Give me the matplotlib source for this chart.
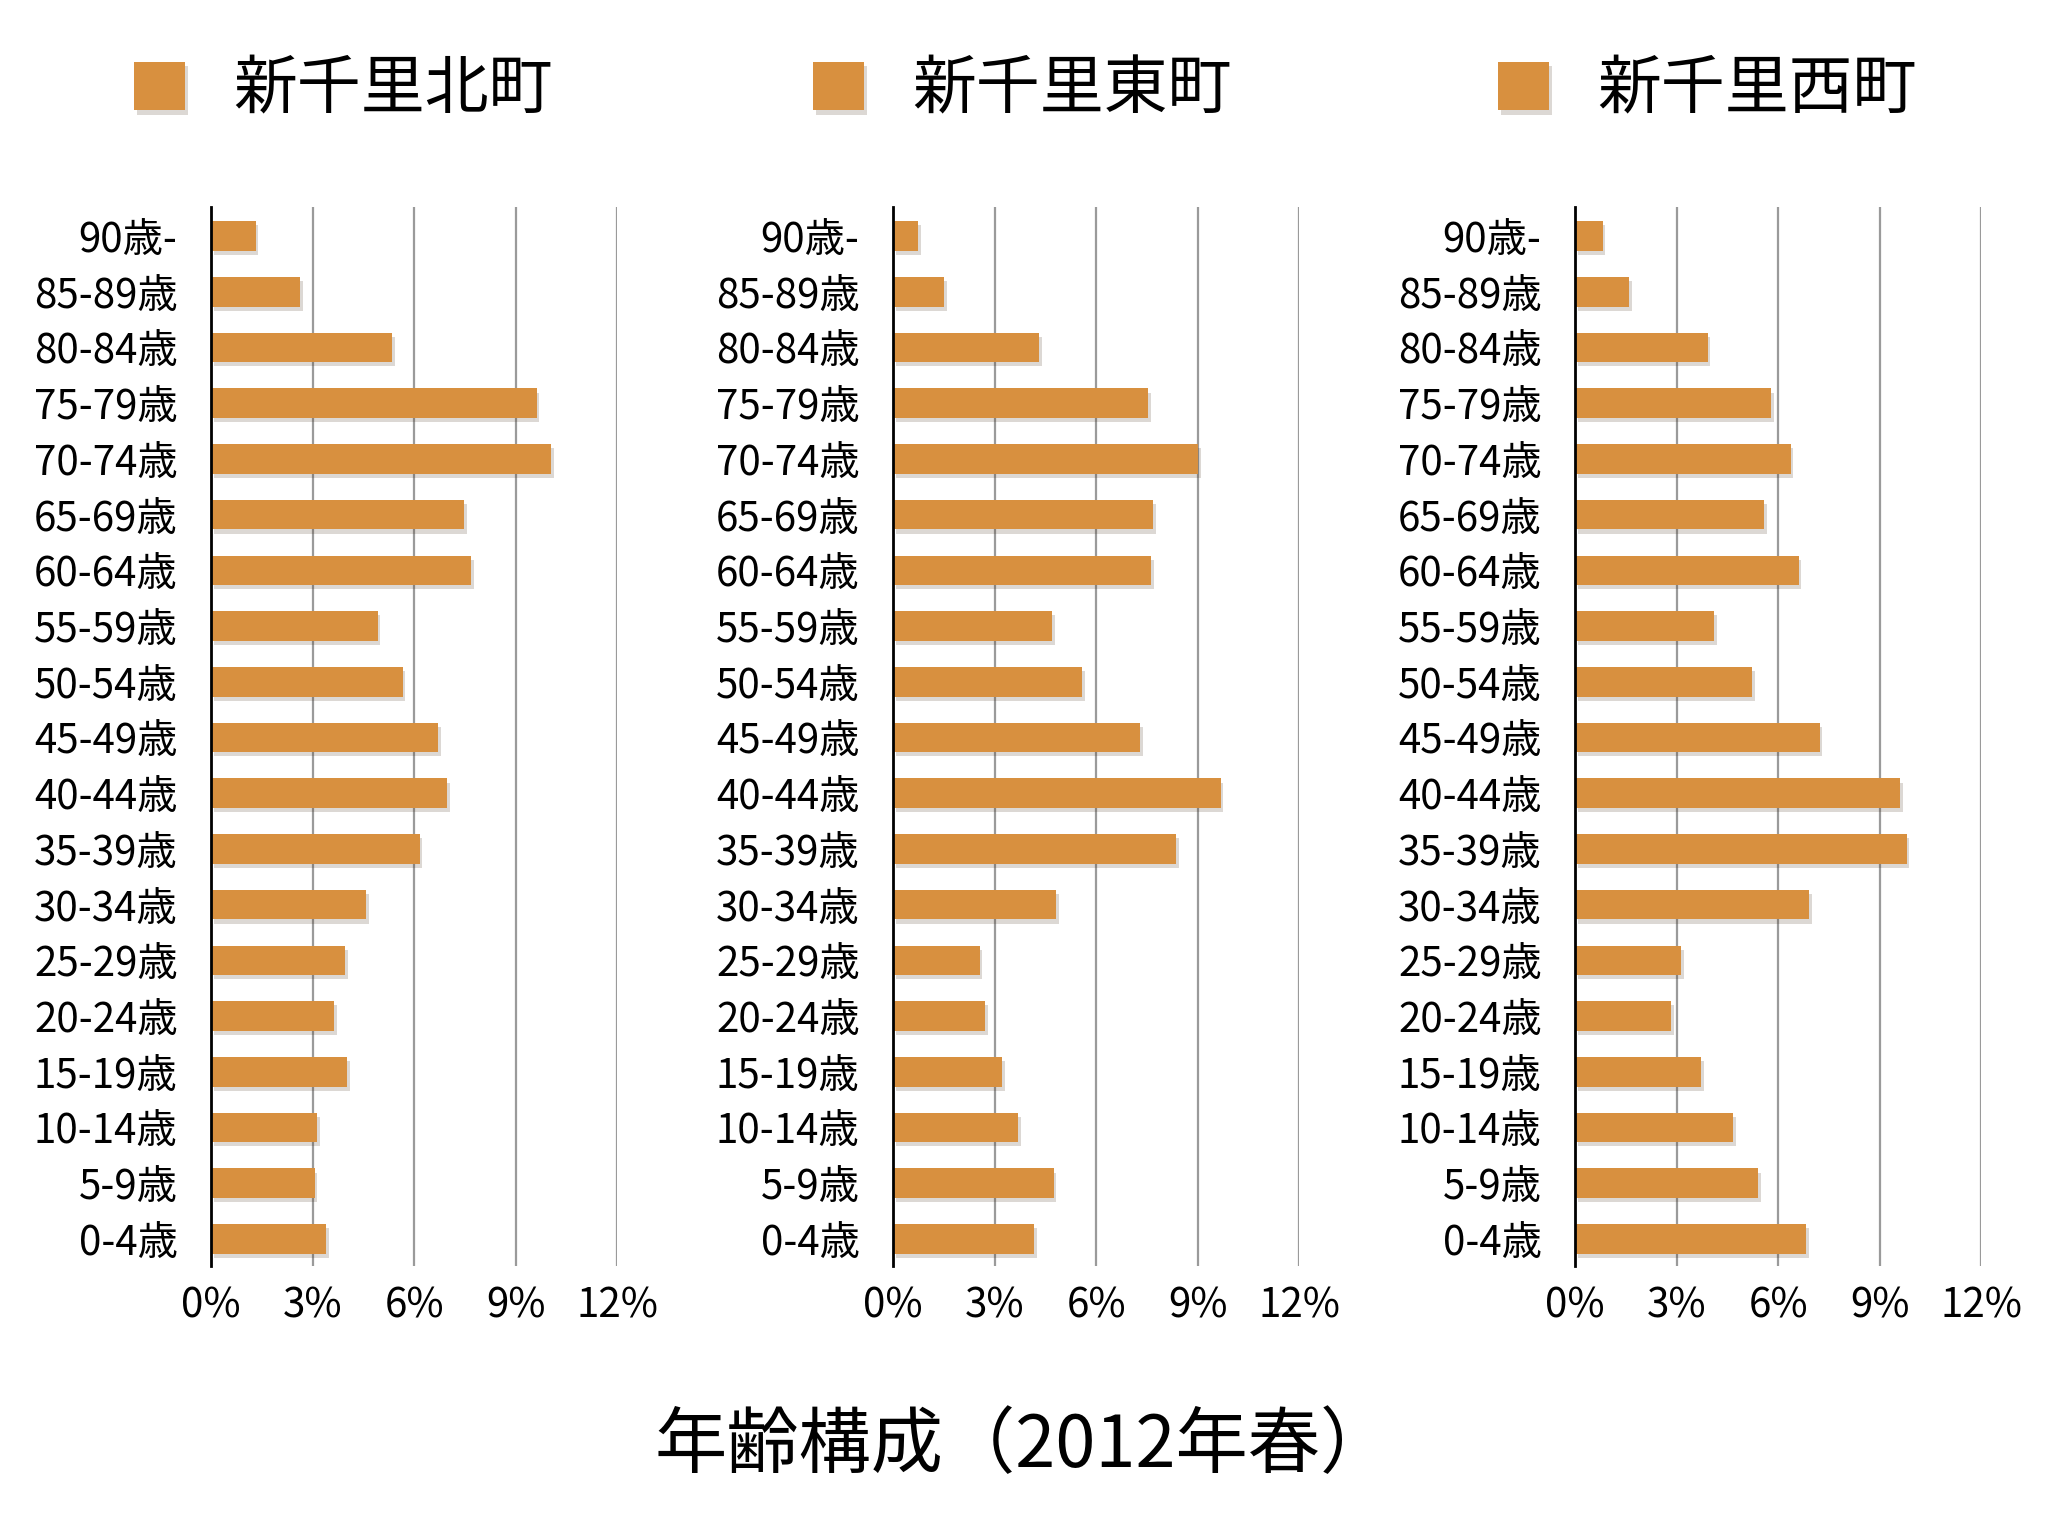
import numpy as np
import matplotlib
matplotlib.use('Agg')
import matplotlib.pyplot as plt
import matplotlib.patheffects as pe

plt.rcParams['font.family'] = ['Noto Sans CJK JP', 'DejaVu Sans']

## Data (percent of population) ##
age_groups = ['0-4歳', '5-9歳', '10-14歳', '15-19歳', '20-24歳', '25-29歳',
              '30-34歳', '35-39歳', '40-44歳', '45-49歳', '50-54歳', '55-59歳',
              '60-64歳', '65-69歳', '70-74歳', '75-79歳', '80-84歳', '85-89歳', '90歳-']

towns = ['新千里北町', '新千里東町', '新千里西町']

kita = [3.41, 3.06, 3.14, 4.03, 3.64, 3.95, 4.57, 6.16, 6.98, 6.71,
        5.66, 4.92, 7.67, 7.48, 10.04, 9.61, 5.35, 2.64, 1.32]
higashi = [4.16, 4.74, 3.69, 3.22, 2.72, 2.56, 4.82, 8.35, 9.67, 7.30,
           5.59, 4.70, 7.61, 7.69, 9.01, 7.53, 4.31, 1.51, 0.74]
nishi = [6.83, 5.40, 4.66, 3.73, 2.83, 3.14, 6.91, 9.79, 9.59, 7.22,
         5.24, 4.12, 6.60, 5.59, 6.37, 5.79, 3.92, 1.59, 0.82]

x_ticks = [0, 3, 6, 9, 12]
x_ticklabels = ['0%', '3%', '6%', '9%', '12%']
title = '年齢構成（2012年春）'

bar_color = '#D8903F'

fig = plt.figure(figsize=(10.24, 7.68), dpi=200)

lefts = [0.1030, 0.4360, 0.7690]  # axes left edges
legend_x = [0.0654, 0.3970, 0.7315]
y_pos = np.arange(len(age_groups))

for left, lx, town, vals in zip(lefts, legend_x, towns, [kita, higashi, nishi]):
    ax = fig.add_axes([left, 0.1760, 0.1985, 0.6892])
    bars = ax.barh(y_pos, vals, height=0.53, color=bar_color, zorder=3, label=town)
    for b in bars:
        b.set_path_effects([pe.SimplePatchShadow(offset=(1.0, -1.5), alpha=0.18),
                            pe.Normal()])

    ax.set_xlim(0, 12)
    ax.set_ylim(-0.48, 18.52)
    ax.set_xticks(x_ticks)
    ax.set_xticklabels(x_ticklabels)
    ax.set_yticks(y_pos)
    ax.set_yticklabels(age_groups)
    ax.tick_params(axis='both', length=0, labelsize=14.5)
    ax.tick_params(axis='y', pad=12)
    ax.tick_params(axis='x', pad=7)

    ax.grid(axis='x', color='#9a9a9a', linewidth=0.8, zorder=0)
    ax.set_axisbelow(True)
    for s in ['top', 'right', 'bottom']:
        ax.spines[s].set_visible(False)
    ax.spines['left'].set_color('black')
    ax.spines['left'].set_linewidth(1.0)
    ax.spines['left'].set_zorder(4)

    ax.legend(handles=[bars], loc='center left', bbox_to_anchor=(lx, 0.9414),
              bbox_transform=fig.transFigure, frameon=False, fontsize=23,
              handlelength=0.8, handleheight=0.8, handletextpad=0.75,
              borderpad=0, borderaxespad=0)

fig.text(0.500, 0.058, title, ha='center', va='center', fontsize=26)

fig.savefig('out.png', dpi=200, facecolor='white')
